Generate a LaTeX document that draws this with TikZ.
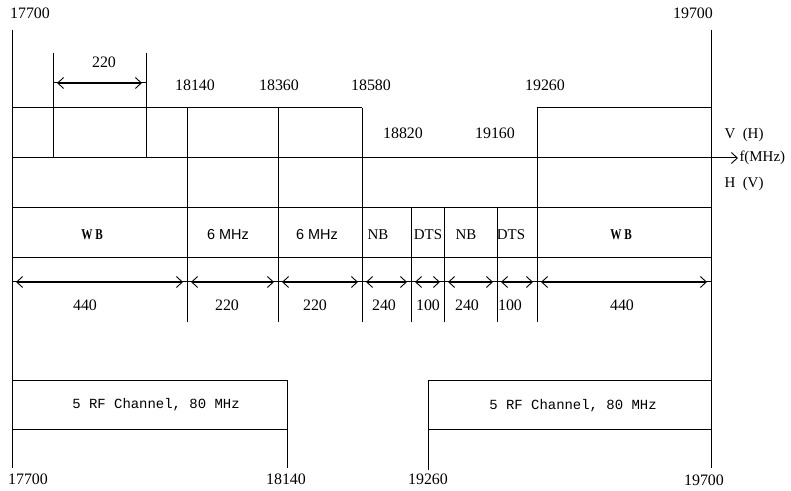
\documentclass[tikz,border=0pt]{standalone}
\usepackage{fontspec}
\setmainfont{Liberation Serif}
\newfontfamily\lsans{Liberation Sans}
\newfontfamily\lmono{Liberation Mono}
\usetikzlibrary{arrows.meta}
\begin{document}
\begin{tikzpicture}[x=1bp,y=-1bp,
  line width=1bp,
  >={Straight Barb[length=6bp,width=11bp,line width=0.9bp]},
  num/.style={font=\fontsize{16}{19}\selectfont, inner sep=0pt},
  band/.style={font=\fontsize{15}{18}\selectfont, inner sep=0pt},
  sband/.style={font=\lsans\fontsize{14.5}{18}\selectfont, inner sep=0pt},
  pol/.style={font=\fontsize{15}{18}\selectfont, inner sep=0pt, anchor=west},
  rf/.style={font=\lmono\fontsize{14}{18}\selectfont, inner sep=0pt},
  dim/.style={<->, line width=0.9bp}]
\useasboundingbox (0,0) rectangle (791,491);

% main verticals
\draw (12,30) -- (12,468);
\draw (711,30) -- (711,468);

% V(H) band outline
\draw (12,108) -- (362,108);
\draw (537,108) -- (711,108);
% frequency axis
\draw (12,158) -- (711,158);
\draw[->] (711,158) -- (738,158);
\node[pol] (fmhz) at (739,158) {f(MHz)};
\node[pol] (vh) at (724,135) {V\enspace(H)};
\node[pol] (hv) at (724,184) {H\enspace(V)};

% 220 marker at top
\draw (53,53) -- (53,158);
\draw (146,53) -- (146,158);
\draw (53,83) -- (146,83);
\draw[dim] (57,83) -- (142,83);
\node[num] (top220) at (104,62) {220};

% inner verticals
\foreach \x in {187,278,362,537} \draw (\x,108) -- (\x,322);
\foreach \x in {411,444,497} \draw (\x,208) -- (\x,322);

% band rows
\draw (12,208) -- (711,208);
\draw (12,258) -- (711,258);

% dimension row
\draw (12,282) -- (711,282);
\foreach \a/\b in {12/187,187/278,278/362,362/411,411/444,444/497,497/537,537/711}
  \draw[dim] ({\a+4},282) -- ({\b-4},282);

% top labels
\node[num] (t17700) at (30,13) {17700};
\node[num] (t19700) at (693,13) {19700};
\node[num] (t18140) at (195,85) {18140};
\node[num] (t18360) at (279,85) {18360};
\node[num] (t18580) at (371,85) {18580};
\node[num] (t19260) at (545,85) {19260};
\node[num] (t18820) at (403,133) {18820};
\node[num] (t19160) at (495,133) {19160};

% band labels
\node[band] (wb1) at (92,235) {\scalebox{0.75}[1]{\bfseries W B}};
\node[sband] (mhz1) at (228,235) {6 MHz};
\node[sband] (mhz2) at (317,235) {6 MHz};
\node[band] (nb1) at (378,235) {NB};
\node[band] (dts1) at (428,235) {DTS};
\node[band] (nb2) at (466,235) {NB};
\node[band] (dts2) at (511,235) {DTS};
\node[band] (wb2) at (621,235) {\scalebox{0.75}[1]{\bfseries W B}};

% width labels
\node[num] (w1) at (85,305) {440};
\node[num] (w2) at (227,305) {220};
\node[num] (w3) at (315,305) {220};
\node[num] (w4) at (384,305) {240};
\node[num] (w5) at (428,305) {100};
\node[num] (w6) at (467,305) {240};
\node[num] (w7) at (510,305) {100};
\node[num] (w8) at (622,305) {440};

% RF channel boxes
\draw (12,380) -- (287,380) -- (287,468);
\draw (12,429) -- (287,429);
\draw (428,470) -- (428,380) -- (711,380);
\draw (428,429) -- (711,429);
\node[rf] (rf1) at (156,405) {5 RF Channel, 80 MHz};
\node[rf] (rf2) at (573,406) {5 RF Channel, 80 MHz};

% bottom labels
\node[num] (b17700) at (28,479) {17700};
\node[num] (b18140) at (286,479) {18140};
\node[num] (b19260) at (428,479) {19260};
\node[num] (b19700) at (704,480) {19700};
\end{tikzpicture}
\end{document}
